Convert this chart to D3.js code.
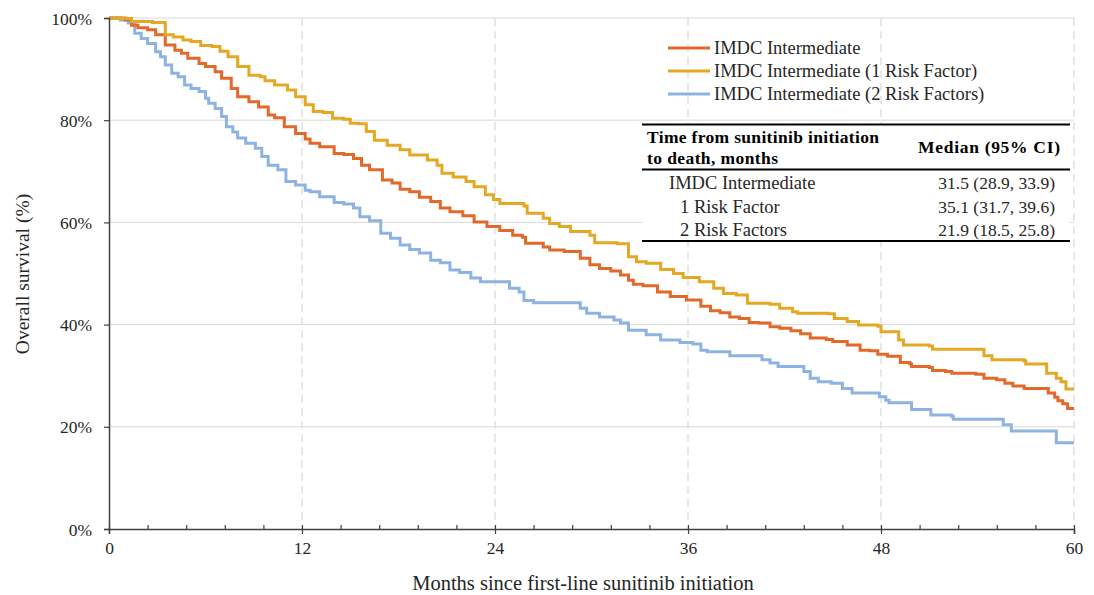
<!DOCTYPE html>
<html>
<head>
<meta charset="utf-8">
<script src="https://cdn.jsdelivr.net/npm/d3@7"></script>
<style>
  html, body { margin: 0; padding: 0; background: #fff; }
  svg { display: block; font-family: "Liberation Serif", "Times New Roman", serif; }
  .axis text { font-family: "Liberation Serif", serif; font-size: 17.5px; fill: #262626; }
</style>
</head>
<body>
<svg id="chart" width="1094" height="595"></svg>
<script>
// ---------- data (month, overall survival %) ----------
const seriesNames = ["IMDC Intermediate", "IMDC Intermediate (1 Risk Factor)", "IMDC Intermediate (2 Risk Factors)"];
const seriesColors = ["#E2692A", "#E5A823", "#8DB3E2"];

const imdcIntermediate = [[0,100],[1.0,99.6],[1.4,98.6],[1.8,98.1],[2.4,97.7],[2.9,96.7],[3.5,94.7],[4.1,93.7],[4.5,93.1],[4.9,92.1],[5.6,91.1],[6.0,90.5],[6.6,89.5],[7.0,88.2],[7.6,86.2],[8.0,84.6],[8.7,83.6],[9.3,82.6],[9.9,81.0],[10.3,80.5],[10.9,78.7],[11.6,77.4],[12.2,76.3],[12.5,75.5],[13.1,74.8],[14.0,73.5],[14.6,73.3],[15.2,72.5],[15.7,71.2],[16.2,70.3],[17.0,68.3],[17.6,67.7],[18.1,66.5],[18.7,66.0],[19.3,64.9],[20.0,64.1],[20.6,62.8],[21.2,62.1],[22.0,61.3],[22.7,60.1],[23.5,59.2],[24.3,58.4],[25.1,57.5],[25.7,57.1],[25.9,55.9],[27.0,55.2],[27.4,54.6],[28.3,54.3],[29.3,53.0],[29.9,51.7],[30.5,51.0],[31.2,50.5],[31.8,49.7],[32.3,48.7],[32.6,47.9],[33.2,47.6],[34.1,46.4],[34.9,45.5],[35.9,44.8],[36.8,43.6],[37.4,42.7],[38.0,42.3],[38.6,41.5],[39.2,41.2],[39.8,40.4],[40.4,40.3],[41.1,39.6],[41.7,39.3],[42.4,38.8],[43.0,38.2],[43.6,37.4],[44.6,37.1],[45.0,36.7],[45.9,36.0],[46.7,35.0],[47.3,34.9],[47.8,34.2],[48.4,33.8],[49.2,32.6],[49.8,32.3],[49.9,31.8],[51.0,31.6],[51.2,31.0],[52.0,30.8],[52.4,30.5],[53.9,30.3],[54.4,29.5],[55.2,29.2],[55.7,28.5],[56.2,28.0],[56.9,27.5],[58.4,26.6],[58.8,25.8],[59.0,25.1],[59.3,24.5],[59.6,23.6],[60,23.6]];

const oneRiskFactor = [[0,100],[0.7,99.9],[1.4,99.3],[2.7,99.1],[3.5,96.7],[4.0,96.3],[4.6,95.7],[5.1,95.4],[5.7,94.6],[6.4,94.4],[6.9,93.5],[7.4,92.4],[8.0,90.5],[8.7,88.8],[9.4,88.5],[9.7,87.7],[10.3,86.9],[11.1,85.9],[11.6,84.6],[12.2,83.0],[12.7,81.7],[13.3,81.5],[13.9,80.4],[14.6,80.2],[15.0,79.4],[15.5,79.3],[16.0,77.8],[16.5,76.1],[17.3,75.1],[18.1,74.2],[18.7,73.2],[19.8,72.2],[20.4,71.2],[20.7,69.6],[21.4,68.9],[22.2,68.0],[22.7,67.0],[23.4,65.4],[23.9,64.5],[24.3,63.7],[25.8,63.2],[26.0,61.8],[27.0,60.8],[27.4,59.8],[28.0,59.2],[28.7,58.2],[29.9,57.5],[30.2,56.0],[31.6,55.8],[32.3,53.3],[32.8,52.3],[33.4,52.0],[34.3,50.8],[35.1,50.0],[35.7,49.2],[36.7,48.4],[37.6,47.1],[38.2,46.1],[39.0,45.8],[39.7,44.2],[41.1,44.0],[41.7,43.2],[42.5,42.5],[42.8,42.2],[44.7,42.1],[45.1,41.2],[45.9,40.6],[46.6,39.9],[47.8,39.7],[48.0,38.6],[49.1,37.0],[49.4,36.0],[51.0,35.8],[51.2,35.2],[54.4,33.9],[54.9,33.1],[56.9,32.9],[57.0,32.3],[58.3,30.5],[58.9,29.5],[59.2,28.8],[59.5,27.4],[60,27.4]];

const twoRiskFactors = [[0,100],[0.7,99.6],[1.2,99.0],[1.6,97.0],[2.0,96.0],[2.4,95.0],[2.9,93.4],[3.2,92.4],[3.5,90.8],[3.9,89.2],[4.3,88.5],[4.7,86.9],[5.1,86.2],[5.6,85.6],[6.0,84.3],[6.2,83.3],[6.6,82.3],[7.0,80.7],[7.3,78.7],[7.7,77.7],[8.0,76.5],[8.5,75.5],[9.1,74.5],[9.5,72.9],[9.9,71.2],[10.5,70.3],[11.0,68.0],[11.6,67.3],[12.2,66.3],[12.5,66.0],[13.1,65.0],[14.0,63.9],[14.6,63.6],[15.2,62.8],[15.6,61.1],[16.2,60.3],[16.9,57.9],[17.5,56.9],[18.1,55.6],[18.7,54.7],[19.3,54.0],[20.0,52.6],[20.6,52.1],[21.2,50.7],[21.8,50.2],[22.5,49.1],[23.1,48.4],[24.9,47.1],[25.5,46.4],[25.8,44.7],[26.4,44.3],[29.3,43.2],[29.7,42.2],[30.5,41.5],[31.4,40.9],[31.8,40.3],[32.3,38.9],[33.4,38.0],[34.3,37.0],[35.5,36.5],[36.3,36.2],[36.8,35.0],[37.2,34.7],[38.6,33.9],[40.6,33.1],[41.1,32.5],[41.6,31.8],[43.2,30.8],[43.6,29.5],[44.1,28.8],[44.9,28.5],[45.6,27.5],[46.2,26.6],[47.9,25.9],[48.3,25.2],[48.5,24.7],[49.9,23.4],[51.1,22.3],[52.4,22.0],[52.5,21.5],[55.6,20.4],[56.1,19.2],[58.9,16.9],[60,16.9]];

const xTicks = [0, 12, 24, 36, 48, 60];
const xMinorTicks = [2.4, 4.8, 7.2, 9.6, 14.4, 16.8, 19.2, 21.6, 26.4, 28.8, 31.2, 33.6, 38.4, 40.8, 43.2, 45.6, 50.4, 52.8, 55.2, 57.6];
const yTicks = [0, 20, 40, 60, 80, 100];

const tableHeader = ["Time from sunitinib initiation", "to death, months"];
const tableValueHeader = "Median (95% CI)";
const tableRows = ["IMDC Intermediate", "1 Risk Factor", "2 Risk Factors"];
const tableValues = ["31.5 (28.9, 33.9)", "35.1 (31.7, 39.6)", "21.9 (18.5, 25.8)"];

const xTitle = "Months since first-line sunitinib initiation";
const yTitle = "Overall survival (%)";

// ---------- layout ----------
const svg = d3.select("#chart");
const plotL = 109, plotR = 1074, plotT = 18, plotB = 529;
const x = d3.scaleLinear().domain([0, 60]).range([plotL, plotR]);
const y = d3.scaleLinear().domain([0, 100]).range([plotB, plotT]);
const axisColor = "#404040";
const gridColor = "#d9d9d9";
const textColor = "#262626";

// horizontal grid
svg.append("g").selectAll("line").data(yTicks.filter(d => d > 0)).join("line")
  .attr("x1", plotL).attr("x2", plotR)
  .attr("y1", d => y(d)).attr("y2", d => y(d))
  .attr("stroke", gridColor).attr("stroke-width", 1);

// vertical dashed grid
svg.append("g").selectAll("line").data(xTicks.filter(d => d > 0)).join("line")
  .attr("x1", d => x(d)).attr("x2", d => x(d))
  .attr("y1", plotT).attr("y2", plotB)
  .attr("stroke", gridColor).attr("stroke-width", 1.2)
  .attr("stroke-dasharray", "8,5");

// table background (covers the grid)
const tX0 = 642, tX1 = 1070;
svg.append("rect").attr("x", tX0).attr("y", 124).attr("width", tX1 - tX0).attr("height", 118)
  .attr("fill", "#fff");

// curves
const line = d3.line().x(d => x(d[0])).y(d => y(d[1])).curve(d3.curveStepAfter);
const allSeries = [twoRiskFactors, imdcIntermediate, oneRiskFactor];
const allColors = [seriesColors[2], seriesColors[0], seriesColors[1]];
svg.append("g").selectAll("path").data(allSeries).join("path")
  .attr("d", d => line(d))
  .attr("fill", "none")
  .attr("stroke", (d, i) => allColors[i])
  .attr("stroke-width", 3)
  .attr("stroke-linejoin", "miter");

// y axis
const yAxis = d3.axisLeft(y).tickValues(yTicks).tickFormat(d => d + "%").tickSize(5).tickPadding(12);
const gy = svg.append("g").attr("class", "axis").attr("transform", `translate(${plotL},0)`).call(yAxis)
  .attr("font-size", 17.5).attr("font-family", "Liberation Serif");
gy.select(".domain").attr("stroke", axisColor).attr("stroke-width", 1.5);
gy.selectAll(".tick line").attr("stroke", axisColor).attr("stroke-width", 1.2);
gy.selectAll(".tick text").attr("dy", "0.35em");

// x axis (major)
const xAxis = d3.axisBottom(x).tickValues(xTicks).tickFormat(d3.format("d")).tickSize(5).tickPadding(8);
const gx = svg.append("g").attr("class", "axis").attr("transform", `translate(0,${plotB})`).call(xAxis)
  .attr("font-size", 17.5).attr("font-family", "Liberation Serif");
gx.select(".domain").attr("stroke", axisColor).attr("stroke-width", 1.5);
gx.selectAll(".tick line").attr("stroke", axisColor).attr("stroke-width", 1.2).attr("y1", -4);

// x minor ticks (inside)
const xMinorAxis = d3.axisTop(x).tickValues(xMinorTicks).tickFormat("").tickSize(4);
const gxm = svg.append("g").attr("transform", `translate(0,${plotB})`).call(xMinorAxis);
gxm.select(".domain").remove();
gxm.selectAll(".tick line").attr("stroke", axisColor).attr("stroke-width", 1.2);

// axis titles
svg.append("text").attr("x", 583).attr("y", 590)
  .attr("text-anchor", "middle").attr("fill", textColor).style("font-size", "20.5px")
  .text(xTitle);
svg.append("text").attr("transform", `translate(28.5,274) rotate(-90)`)
  .attr("text-anchor", "middle").attr("fill", textColor).style("font-size", "19.5px")
  .text(yTitle);

// legend
const legendY = [48, 71, 94];
const lg = svg.append("g");
seriesNames.forEach((name, i) => {
  lg.append("line").attr("x1", 668).attr("x2", 710).attr("y1", legendY[i]).attr("y2", legendY[i])
    .attr("stroke", seriesColors[i]).attr("stroke-width", 3);
  lg.append("text").attr("x", 714).attr("y", legendY[i]).attr("dy", "0.35em")
    .attr("fill", textColor).style("font-size", "18.5px").text(name);
});

// table
const tg = svg.append("g");
tg.append("line").attr("x1", tX0).attr("x2", tX1).attr("y1", 124.5).attr("y2", 124.5).attr("stroke", "#000").attr("stroke-width", 2);
tg.append("line").attr("x1", tX0).attr("x2", tX1).attr("y1", 169.5).attr("y2", 169.5).attr("stroke", "#000").attr("stroke-width", 2);
tg.append("line").attr("x1", tX0).attr("x2", tX1).attr("y1", 241).attr("y2", 241).attr("stroke", "#000").attr("stroke-width", 2);
tg.append("text").attr("x", 647).attr("y", 143).attr("fill", "#000").style("font-size", "17.5px").style("font-weight", "bold")
  .attr("textLength", 232).attr("lengthAdjust", "spacing").text(tableHeader[0]);
tg.append("text").attr("x", 647).attr("y", 164).attr("fill", "#000").style("font-size", "17.5px").style("font-weight", "bold")
  .attr("textLength", 131).attr("lengthAdjust", "spacing").text(tableHeader[1]);
tg.append("text").attr("x", 918).attr("y", 153).attr("fill", "#000").style("font-size", "17.5px").style("font-weight", "bold")
  .attr("textLength", 142).attr("lengthAdjust", "spacing").text(tableValueHeader);
const rowY = [188.5, 212.5, 235.5];
const rowX = [669, 680, 680];
tableRows.forEach((r, i) => {
  tg.append("text").attr("x", rowX[i]).attr("y", rowY[i]).attr("fill", textColor).style("font-size", "18.5px").text(r);
  tg.append("text").attr("x", 1055).attr("y", rowY[i]).attr("text-anchor", "end").attr("fill", textColor).style("font-size", "17.5px").text(tableValues[i]);
});
</script>
</body>
</html>
